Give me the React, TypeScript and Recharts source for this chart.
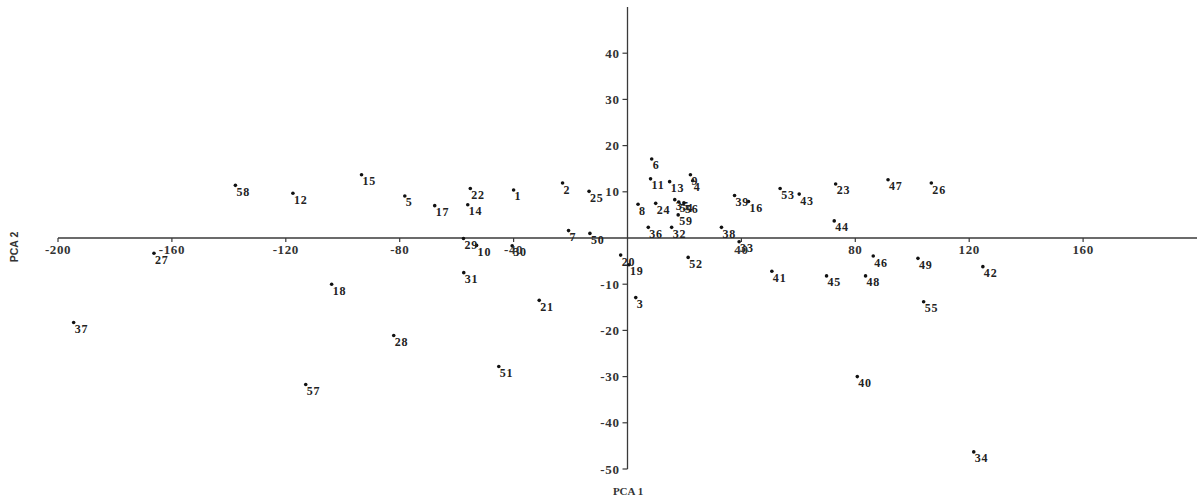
import { ScatterChart, Scatter, XAxis, YAxis, ReferenceLine } from "recharts";

const sampleIds = [
  1, 2, 3, 4, 5, 6, 7, 8, 9, 10, 11, 12, 13, 14, 15, 16, 17, 18, 19, 20,
  21, 22, 23, 24, 25, 26, 27, 28, 29, 30, 31, 32, 33, 34, 35, 36, 37, 38, 39, 40,
  41, 42, 43, 44, 45, 46, 47, 48, 49, 50, 51, 52, 53, 54, 55, 56, 57, 58, 59,
];

const pca1 = [
  -40.0, -22.8, 2.9, 22.9, -78.2, 8.5, -20.7, 3.7, 22.1, -53.0,
  8.1, -117.5, 14.8, -56.1, -93.4, 42.5, -67.7, -103.9, 0.5, -2.4,
  -31.0, -55.2, 73.1, 9.9, -13.5, 106.7, -166.3, -82.1, -57.6, -40.5,
  -57.5, 15.5, 39.2, 121.6, 16.6, 7.3, -194.5, 33.0, 37.6, 80.7,
  50.7, 124.8, 60.3, 72.6, 69.9, 86.3, 91.5, 83.6, 102.0, -13.2,
  -45.2, 21.3, 53.6, 18.0, 104.0, 19.8, -113.0, -137.7, 17.8,
];

const pca2 = [
  10.4, 11.9, -12.9, 12.4, 9.1, 17.1, 1.6, 7.3, 13.7, -1.6,
  12.8, 9.7, 12.2, 7.2, 13.7, 7.9, 7.0, -10.0, -5.8, -3.7,
  -13.5, 10.7, 11.7, 7.5, 10.1, 11.9, -3.3, -21.1, -0.1, -1.7,
  -7.5, 2.3, -0.8, -46.3, 8.3, 2.3, -18.3, 2.3, 9.2, -30.0,
  -7.2, -6.2, 9.5, 3.7, -8.2, -3.9, 12.6, -8.2, -4.4, 1.0,
  -27.8, -4.2, 10.7, 7.8, -13.8, 7.6, -31.7, 11.4, 5.0,
];

const xTicks = [-200, -160, -120, -80, -40, 40, 80, 120, 160];
const yTicks = [-50, -40, -30, -20, -10, 10, 20, 30, 40];

const W = 1197;
const H = 499;
const AXIS_H = 30; // room under the plot
const AXIS_W = 58; // room left of the plot
const M = { top: 7, right: 0, bottom: 0, left: 0 };
// where the two axes cross (value 0 on both)
const ZERO_X = AXIS_W + (W - AXIS_W) / 2;
const ZERO_Y = M.top + (H - M.top - AXIS_H) / 2;

const points = sampleIds.map((id, i) => ({ x: pca1[i], y: pca2[i], id }));

const axisColor = "#3a3a3a";
const serif = "'Liberation Serif', 'Times New Roman', serif";

const renderXTick = ({ x, payload }: any) => (
  <g>
    <line x1={x} x2={x} y1={ZERO_Y} y2={ZERO_Y + 4} stroke={axisColor} strokeWidth={1.2} />
    <text
      x={x}
      y={ZERO_Y + 11}
      textAnchor="middle"
      dominantBaseline="central"
      fontFamily={serif}
      fontWeight="bold"
      fontSize={13}
      letterSpacing={0.6}
      fill="#333"
    >
      {payload.value}
    </text>
  </g>
);

const renderYTick = ({ y, payload }: any) => (
  <g>
    <line x1={ZERO_X - 5} x2={ZERO_X} y1={y} y2={y} stroke={axisColor} strokeWidth={1.2} />
    <text
      x={ZERO_X - 8}
      y={y}
      textAnchor="end"
      dominantBaseline="central"
      fontFamily={serif}
      fontWeight="bold"
      fontSize={13}
      letterSpacing={0.6}
      fill="#333"
    >
      {payload.value}
    </text>
  </g>
);

function Dot({ cx, cy, payload }: any) {
  return (
    <g>
      <circle cx={cx} cy={cy} r={1.8} fill="#111" />
      <text
        x={cx + 1}
        y={cy + 6.5}
        dominantBaseline="central"
        fontFamily={serif}
        fontWeight="bold"
        fontSize={12}
        letterSpacing={0.8}
        fill="#222"
      >
        {payload.id}
      </text>
    </g>
  );
}

export default function App() {
  return (
    <div style={{ position: "relative", width: W, height: H, background: "#fff" }}>
      <style>{"body{margin:0}"}</style>
      <ScatterChart width={W} height={H} margin={M}>
        <XAxis
          type="number"
          dataKey="x"
          domain={[-200, 200]}
          ticks={xTicks}
          interval={0}
          height={AXIS_H}
          axisLine={false}
          tickLine={false}
          tick={renderXTick}
        />
        <YAxis
          type="number"
          dataKey="y"
          domain={[-50, 50]}
          ticks={yTicks}
          interval={0}
          width={AXIS_W}
          axisLine={false}
          tickLine={false}
          tick={renderYTick}
        />
        <ReferenceLine y={0} stroke={axisColor} strokeWidth={1.3} />
        <ReferenceLine x={0} stroke={axisColor} strokeWidth={1.3} />
        <Scatter data={points} shape={<Dot />} isAnimationActive={false} />
      </ScatterChart>
      <div
        style={{
          position: "absolute",
          left: 14,
          top: 247,
          transform: "translate(-50%, -50%) rotate(-90deg)",
          fontFamily: "'Liberation Sans', Arial, sans-serif",
          fontWeight: "bold",
          fontSize: 10.5,
          color: "#333",
          whiteSpace: "nowrap",
        }}
      >
        PCA 2
      </div>
      <div
        style={{
          position: "absolute",
          left: 628,
          top: 491,
          transform: "translate(-50%, -50%)",
          fontFamily: serif,
          fontWeight: "bold",
          fontSize: 11,
          color: "#333",
          whiteSpace: "nowrap",
        }}
      >
        PCA 1
      </div>
    </div>
  );
}
